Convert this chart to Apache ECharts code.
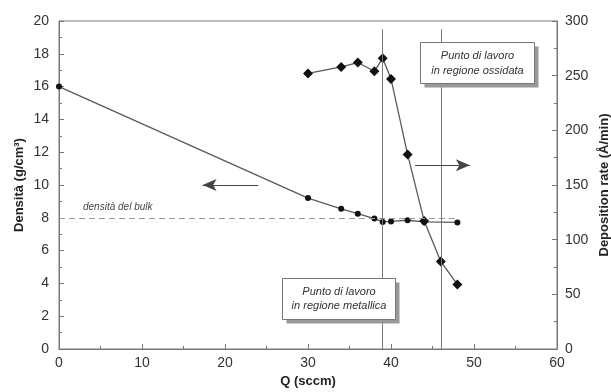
<!DOCTYPE html>
<html>
<head>
<meta charset="utf-8">
<script src="https://cdn.jsdelivr.net/npm/echarts@6/dist/echarts.min.js"></script>
<style>
  html, body { margin: 0; padding: 0; background: #fff; }
  #chart { width: 611px; height: 392px; }
</style>
</head>
<body>
<div id="chart"></div>
<script>
const chart = echarts.init(document.getElementById("chart"));

// ---- data ----
const densQ = [0, 30, 34, 36, 38, 39, 40, 42, 44, 48];
const densVal = [16, 9.2, 8.55, 8.25, 7.95, 7.75, 7.78, 7.85, 7.75, 7.72];

const rateQ = [30, 34, 36, 38, 39, 40, 42, 44, 46, 48];
const rateVal = [252, 258, 262, 254, 266, 247, 178, 117, 80, 59];

const bulkDensity = 8;
const bulkRange = [0, 48];
const workPoints = [39, 46];

const FONT = "Liberation Sans, Arial, sans-serif";
const LINE = "#5a5a5a";
const FRAME = "#777";

const axisCommon = {
  axisLine: { show: true, lineStyle: { color: FRAME, width: 1 } },
  axisTick: { show: true, inside: true, length: 5, lineStyle: { color: FRAME } },
  minorTick: { show: true, splitNumber: 2, length: 3, lineStyle: { color: FRAME } },
  splitLine: { show: false },
  axisLabel: { color: "#333", fontSize: 14, fontFamily: FONT },
  nameTextStyle: { color: "#222", fontSize: 13, fontWeight: "bold", fontFamily: FONT },
  nameMoveOverlap: false
};

const arrowLine = { type: "solid", color: "#444", width: 1.2 };

chart.setOption({
  animation: false,
  grid: {
    left: 59, right: 54, top: 21, bottom: 43,
    outerBoundsMode: "none",
    containLabel: false,
    show: true, borderColor: FRAME, borderWidth: 1
  },
  xAxis: {
    ...axisCommon,
    type: "value",
    min: 0, max: 60, interval: 10,
    name: "Q (sccm)",
    nameLocation: "middle",
    nameGap: 26,
    axisLabel: { ...axisCommon.axisLabel, margin: 7 }
  },
  yAxis: [
    {
      ...axisCommon,
      type: "value",
      min: 0, max: 20, interval: 2,
      name: "Densità (g/cm³)",
      nameLocation: "middle",
      nameGap: 33,
      nameRotate: 90,
      axisLabel: { ...axisCommon.axisLabel, margin: 10 }
    },
    {
      ...axisCommon,
      type: "value",
      position: "right",
      min: 0, max: 300, interval: 50,
      name: "Deposition rate (Å/min)",
      nameLocation: "middle",
      nameGap: 41,
      nameRotate: 90,
      axisLabel: { ...axisCommon.axisLabel, margin: 8 }
    }
  ],
  series: [
    {
      type: "line",
      yAxisIndex: 0,
      data: densQ.map((q, i) => [q, densVal[i]]),
      symbol: "circle",
      symbolSize: 6,
      lineStyle: { color: LINE, width: 1.3 },
      itemStyle: { color: "#111" },
      z: 3,
      markLine: {
        silent: true,
        symbol: "none",
        label: { show: false },
        data: [
          [
            { coord: [bulkRange[0], bulkDensity], lineStyle: { type: [6, 4], color: "#999", width: 1 } },
            { coord: [bulkRange[1], bulkDensity] }
          ],
          [
            { coord: [workPoints[0], 0], lineStyle: { type: "solid", color: "#777", width: 1 } },
            { coord: [workPoints[0], 19.5] }
          ],
          [
            { coord: [workPoints[1], 0], lineStyle: { type: "solid", color: "#777", width: 1 } },
            { coord: [workPoints[1], 19.5] }
          ],
          [
            { coord: [24, 10], symbol: "none", lineStyle: arrowLine },
            { coord: [17.3, 10], symbol: "arrow", symbolSize: [9, 14] }
          ],
          [
            { coord: [42.9, 11.2], symbol: "none", lineStyle: arrowLine },
            { coord: [49.5, 11.2], symbol: "arrow", symbolSize: [9, 14] }
          ]
        ]
      }
    },
    {
      type: "line",
      yAxisIndex: 1,
      data: rateQ.map((q, i) => [q, rateVal[i]]),
      symbol: "diamond",
      symbolSize: 10,
      lineStyle: { color: LINE, width: 1.3 },
      itemStyle: { color: "#111" },
      z: 4
    }
  ],
  graphic: [
    {
      type: "text",
      left: 83, top: 202,
      style: { text: "densità del bulk", fontSize: 10, fontStyle: "italic", fill: "#444", fontFamily: FONT }
    },
    {
      type: "group",
      left: 420, top: 42,
      children: [
        { type: "rect", z: 100, shape: { x: 4, y: 4, width: 114, height: 41 }, style: { fill: "#999" } },
        { type: "rect", z: 101, shape: { x: 0, y: 0, width: 114, height: 41 }, style: { fill: "#fff", stroke: "#777", lineWidth: 1 } },
        {
          type: "text", z: 102, x: 57, y: 20.5,
          style: {
            text: "Punto di lavoro\nin regione ossidata", align: "center", verticalAlign: "middle",
            fontSize: 11, fontStyle: "italic", fill: "#333", fontFamily: FONT, lineHeight: 15
          }
        }
      ]
    },
    {
      type: "group",
      left: 282, top: 278,
      children: [
        { type: "rect", z: 100, shape: { x: 4, y: 4, width: 113, height: 41 }, style: { fill: "#999" } },
        { type: "rect", z: 101, shape: { x: 0, y: 0, width: 113, height: 41 }, style: { fill: "#fff", stroke: "#777", lineWidth: 1 } },
        {
          type: "text", z: 102, x: 56.5, y: 20.5,
          style: {
            text: "Punto di lavoro\nin regione metallica", align: "center", verticalAlign: "middle",
            fontSize: 11, fontStyle: "italic", fill: "#333", fontFamily: FONT, lineHeight: 14
          }
        }
      ]
    }
  ]
});
</script>
</body>
</html>
